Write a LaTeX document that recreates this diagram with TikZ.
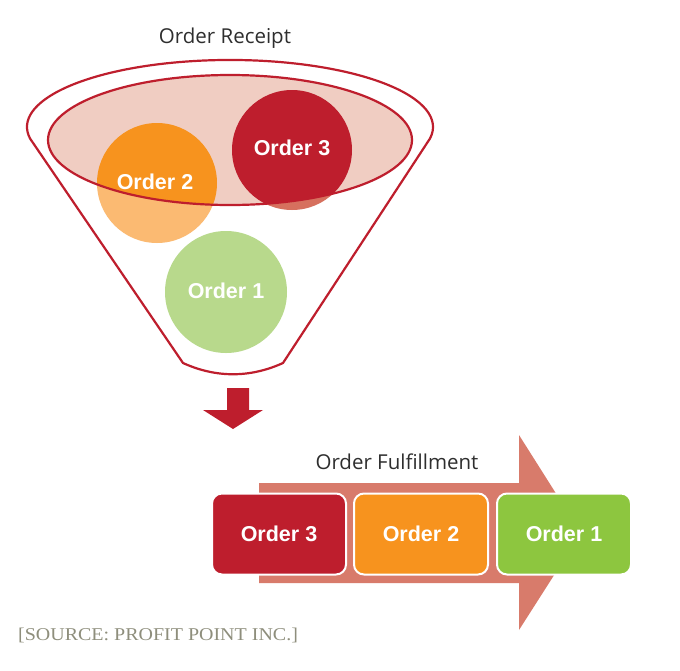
\documentclass[tikz,border=0pt]{standalone}
\usepackage{fontspec}
\setmainfont{Liberation Serif}
\newfontfamily\headfont{Open Sans}
\newfontfamily\labelfont{Liberation Sans}
\definecolor{funnelred}{HTML}{BE1E2D}
\definecolor{rimpink}{HTML}{F0CDC2}
\definecolor{orderred}{HTML}{BE1E2D}
\definecolor{orderredlt}{HTML}{D6705E}
\definecolor{orderorange}{HTML}{F7931E}
\definecolor{orderorangelt}{HTML}{FBBA72}
\definecolor{ordergreen}{HTML}{8DC63F}
\definecolor{ordergreenlt}{HTML}{B8D98C}
\definecolor{flowsalmon}{HTML}{D87B6B}
\definecolor{headgray}{HTML}{2E2E2E}
\definecolor{sourcegray}{HTML}{8E8E7C}
\begin{document}
\begin{tikzpicture}[x=1pt,y=-1pt,
  heading/.style={font=\headfont\fontsize{20.5}{24}\selectfont, text=headgray},
  ordertext/.style={font=\labelfont\bfseries\fontsize{21.5}{24}\selectfont, text=white},
  ball/.style={circle, minimum size=120pt, inner sep=0pt},
  orderbox/.style={rectangle, rounded corners=10pt, draw=white, line width=2pt,
    minimum width=134pt, minimum height=81pt, inner sep=0pt,
    font=\labelfont\bfseries\fontsize{21.5}{24}\selectfont, text=white}]
\useasboundingbox (0,0) rectangle (680,670);

% funnel body
\draw[funnelred, line width=2.2pt, fill=white, line join=round]
  (183,363) -- (30.1,138.6)
  arc[start angle=170, end angle=370, x radius=203, y radius=67]
  -- (283,363) .. controls (250,378) and (216,378) .. (183,363) -- cycle;

% orders, light parts below the rim
\fill[orderorangelt] (157,183) circle (60);
\fill[orderredlt] (292,150) circle (60);
\fill[ordergreenlt] (226,292) circle (61);

% rim of the funnel and the parts of the orders inside it
\fill[rimpink] (230,140) ellipse [x radius=182, y radius=65];
\begin{scope}
  \clip (230,140) ellipse [x radius=182, y radius=65];
  \fill[orderorange] (157,183) circle (60);
  \fill[orderred] (292,150) circle (60);
\end{scope}
\draw[funnelred, line width=2.2pt] (230,140) ellipse [x radius=182, y radius=65];

\node[ball] (o2) at (157,183) {};
\node[ball] (o3) at (292,150) {};
\node[ball] (o1) at (226,292) {};
\node[ordertext] (o2t) at (155,182) {Order 2};
\node[ordertext] (o3t) at (292,148) {Order 3};
\node[ordertext] (o1t) at (226,291) {Order 1};

\node[heading] (receipt) at (225,38) {Order Receipt};

% down arrow between the stages
\fill[funnelred] (227,388) -- (249,388) -- (249,410) -- (263,410) -- (233,429)
  -- (203,410) -- (227,410) -- cycle;

% fulfillment flow arrow
\fill[flowsalmon] (259,483) -- (519,483) -- (519,435) -- (581,533) -- (519,630)
  -- (519,583) -- (259,583) -- cycle;

\node[heading] (fulfil) at (397,462) {Order Fulfillment};

\node[orderbox, fill=orderred] (b3) at (279,534) {Order 3};
\node[orderbox, fill=orderorange] (b2) at (421,534) {Order 2};
\node[orderbox, fill=ordergreen] (b1) at (564,534) {Order 1};

\node[anchor=west, inner sep=0pt, text=sourcegray, font=\fontsize{18}{20}\selectfont]
  (source) at (18,635) {\scalebox{1.11}[1]{[SOURCE: PROFIT POINT INC.]}};
\end{tikzpicture}
\end{document}
